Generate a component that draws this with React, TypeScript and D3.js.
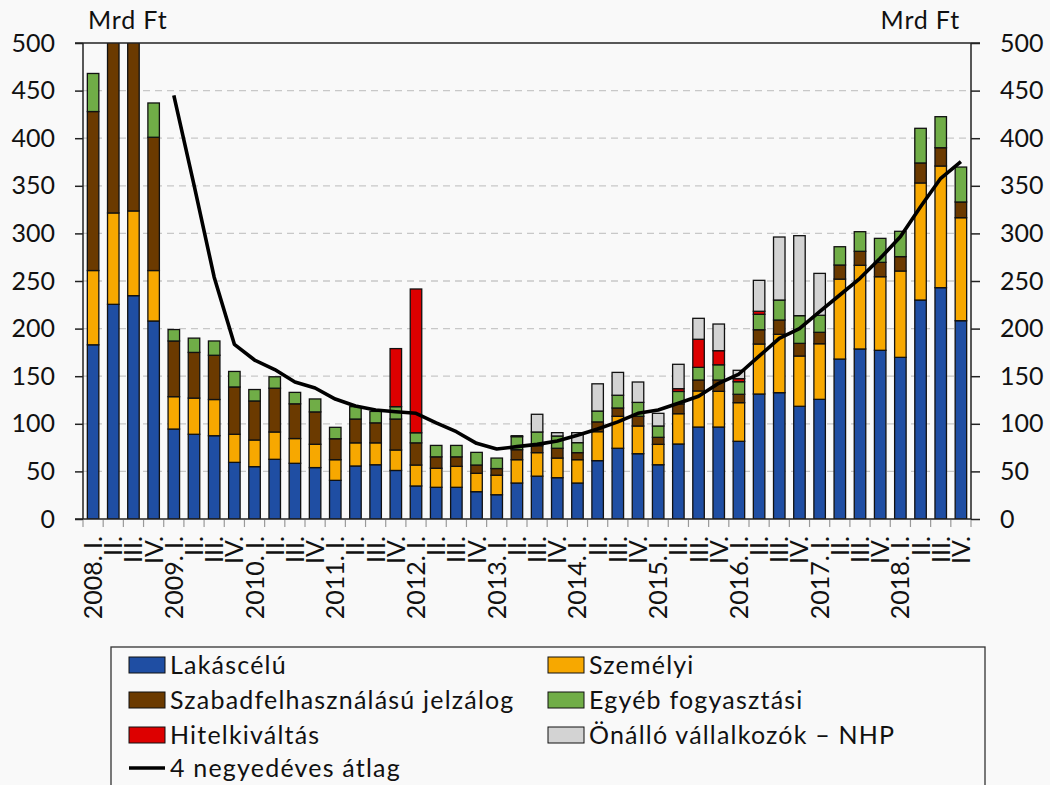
import React, { useRef, useEffect } from "react";
import * as d3 from "d3";

// tick labels
const years = ["2008", "2009", "2010", "2011", "2012", "2013", "2014", "2015", "2016", "2017", "2018"];
const romans = ["I.", "II.", "III.", "IV."];

// series (Mrd Ft), 2008 I. .. 2018 IV.
const lakascelu = [183, 225.5, 234.6, 208, 94.5, 89, 87.5, 59.5, 55, 62.7, 58.5, 54, 40.6, 55.7, 57, 51, 34.7, 33.3, 33.3, 28.7, 25.5, 37.8, 45, 43.4, 37.8, 61.3, 74.3, 68.6, 57, 78.8, 96.6, 96.6, 81.6, 131.3, 132.7, 118.4, 125.7, 168, 178.6, 177.2, 169.8, 230, 243, 208.3];
const szemelyi = [78, 96, 89, 53, 34, 38, 38, 29.5, 28, 28.7, 26, 24.5, 21.7, 24.3, 23, 21.5, 22, 20, 22, 19.3, 20.5, 24.5, 24.7, 20.6, 24.5, 30.4, 33.6, 29.1, 21.4, 31.8, 37.9, 37.5, 40.6, 52.5, 61.3, 52.8, 58.4, 84, 87.9, 77.3, 90.7, 123, 127.8, 108.2];
const szabad = [167, 209, 211, 140, 58.5, 48, 46.5, 49.7, 41, 46, 36.5, 34, 22, 25, 21, 32.5, 23.3, 12, 10, 8.7, 7, 10.5, 7.3, 10.3, 7.4, 10.3, 8.7, 10.2, 7.4, 10.2, 11.5, 11.9, 8.8, 15, 15, 13.3, 12, 14.8, 14.7, 15.1, 15.1, 21, 19.2, 16.5];
const egyeb = [40, 40, 40, 36, 12, 15, 15, 16.3, 12, 12, 12, 13.6, 12, 13, 12, 13, 10.6, 12, 12, 13.3, 11, 13.7, 14.4, 12.9, 10.5, 11.4, 13.4, 14.6, 11.9, 13.2, 13.3, 16, 13.2, 16.2, 21, 29.1, 17.9, 19.2, 20.6, 25.2, 26.6, 36.4, 32.6, 36.7];
const hitel = [0, 0, 0, 0, 0, 0, 0, 0, 0, 0, 0, 0, 0, 0, 0, 61, 151, 0, 0, 0, 0, 0, 0, 0, 0, 0, 0, 0, 0, 2.9, 29.5, 14.8, 3.2, 3.2, 0, 0, 0, 0, 0, 0, 0, 0, 0, 0];
const onallo = [0, 0, 0, 0, 0, 0, 0, 0, 0, 0, 0, 0, 0, 0, 0, 0, 0, 0, 0, 0, 0, 1, 18.6, 3.5, 10.5, 28.6, 24, 21.4, 13.3, 25.6, 22, 28, 8.8, 32.5, 66.2, 84, 44, 0, 0, 0, 0, 0, 0, 0];
const atlag = [null, null, null, null, 445, 351, 254, 183.5, 167, 157, 144, 137.6, 126, 118.7, 114.5, 112.7, 111, 101, 91.7, 79.5, 73.5, 76, 78.4, 82, 88, 94.5, 102, 111, 114.5, 121.5, 129, 142.5, 152.3, 171, 189.8, 200, 217.8, 235.3, 252.8, 273.8, 296.5, 328, 357.9, 375.3];

const seriesNames = ["Lakáscélú", "Személyi", "Szabadfelhasználású jelzálog", "Egyéb fogyasztási", "Hitelkiváltás", "Önálló vállalkozók – NHP"];
const seriesColors = ["#1f4ea3", "#f7a800", "#6b3a00", "#70ad47", "#dd0000", "#d3d3d3"];
const seriesData = [lakascelu, szemelyi, szabad, egyeb, hitel, onallo];

const FONT = "Lato, 'Open Sans', sans-serif";

function App() {
  const svgRef = useRef<SVGSVGElement>(null);

  useEffect(() => {
    document.body.style.margin = "0";
    document.body.style.background = "#f9f9f9";

    const svg = d3.select(svgRef.current);
    svg.selectAll("*").remove();

    const width = 1050;
    const height = 785;
    const margin = { top: 43, right: 79, bottom: 266, left: 83 };
    const innerWidth = width - margin.left - margin.right;
    const innerHeight = height - margin.top - margin.bottom;

    svg.append("rect").attr("width", width).attr("height", height).attr("fill", "#f9f9f9");

    const labels: string[] = [];
    years.forEach((y) => romans.forEach((r, i) => labels.push(i === 0 ? `${y}. ${r}` : r)));

    const x = d3.scaleBand<number>().domain(d3.range(labels.length)).range([0, innerWidth]).paddingInner(0.43).paddingOuter(0.215);
    const xb = d3.scaleBand<number>().domain(d3.range(labels.length)).range([0, innerWidth]);
    const y = d3.scaleLinear().domain([0, 500]).range([innerHeight, 0]);

    const g = svg.append("g").attr("transform", `translate(${margin.left}, ${margin.top})`);

    g.append("clipPath").attr("id", "plot-clip").append("rect").attr("width", innerWidth).attr("height", innerHeight);

    // gridlines
    g.selectAll(".grid")
      .data(d3.range(50, 500, 50))
      .enter()
      .append("line")
      .attr("x1", 0)
      .attr("x2", innerWidth)
      .attr("y1", (d) => y(d))
      .attr("y2", (d) => y(d))
      .attr("stroke", "#c8c8c8")
      .attr("stroke-width", 1.3)
      .attr("stroke-dasharray", "7,5");

    // stacked bars
    const rows = labels.map((_, i) => {
      const o: any = { i };
      seriesData.forEach((s, k) => (o[k] = s[i]));
      return o;
    });
    const stack = d3.stack<any>().keys(seriesData.map((_, k) => String(k)))(rows);

    const bars = g.append("g").attr("clip-path", "url(#plot-clip)");
    stack.forEach((layer, k) => {
      bars
        .selectAll(`.bar-${k}`)
        .data(layer.filter((d) => d[1] - d[0] > 0))
        .enter()
        .append("rect")
        .attr("x", (d) => x(d.data.i)!)
        .attr("width", x.bandwidth())
        .attr("y", (d) => y(d[1]))
        .attr("height", (d) => y(d[0]) - y(d[1]))
        .attr("fill", seriesColors[k])
        .attr("stroke", "#111")
        .attr("stroke-width", 1.3);
    });

    // 4 quarter average
    const line = d3
      .line<number | null>()
      .defined((d) => d !== null)
      .x((_, i) => x(i)! + x.bandwidth() / 2)
      .y((d) => y(d as number));
    g.append("path").datum(atlag).attr("d", line).attr("fill", "none").attr("stroke", "#000").attr("stroke-width", 3.6).attr("stroke-linejoin", "round");

    // frame
    g.append("line").attr("x1", -8).attr("x2", innerWidth + 9).attr("y1", 0).attr("y2", 0).attr("stroke", "#222").attr("stroke-width", 1.5);
    g.append("line").attr("x1", 0).attr("x2", 0).attr("y1", 0).attr("y2", innerHeight).attr("stroke", "#222").attr("stroke-width", 1.5);
    g.append("line").attr("x1", innerWidth).attr("x2", innerWidth).attr("y1", 0).attr("y2", innerHeight).attr("stroke", "#222").attr("stroke-width", 1.5);

    // y axes
    const left = g.append("g").call(d3.axisLeft(y).tickValues(d3.range(0, 501, 50)).tickSize(8).tickPadding(20));
    const right = g.append("g").attr("transform", `translate(${innerWidth}, 0)`).call(d3.axisRight(y).tickValues(d3.range(0, 501, 50)).tickSize(9).tickPadding(20));
    [left, right].forEach((a) => {
      a.select(".domain").remove();
      a.selectAll(".tick line").attr("stroke", "#222").attr("stroke-width", 1.5);
      a.selectAll(".tick text").style("font-family", FONT).style("font-size", "25px").attr("fill", "#111");
    });

    // x axis
    g.append("line").attr("x1", -8).attr("x2", innerWidth).attr("y1", innerHeight).attr("y2", innerHeight).attr("stroke", "#222").attr("stroke-width", 1.5);
    g.selectAll(".xtick")
      .data(d3.range(labels.length + 1))
      .enter()
      .append("line")
      .attr("x1", (d) => (d < labels.length ? xb(d)! : innerWidth))
      .attr("x2", (d) => (d < labels.length ? xb(d)! : innerWidth))
      .attr("y1", innerHeight + 1)
      .attr("y2", innerHeight + 8)
      .attr("stroke", "#999")
      .attr("stroke-width", 1.2);
    g.selectAll(".xlabel")
      .data(labels)
      .enter()
      .append("text")
      .attr("transform", (_, i) => `translate(${xb(i)! + xb.bandwidth() / 2 + 9}, ${innerHeight + 17}) rotate(-90)`)
      .attr("text-anchor", "end")
      .style("font-family", FONT)
      .style("font-size", "25px")
      .attr("fill", "#111")
      .text((d) => d);

    // units
    svg.append("text").attr("x", 88).attr("y", 29).style("font-family", FONT).style("font-size", "25px").style("letter-spacing", "0.8px").attr("fill", "#111").text("Mrd Ft");
    svg.append("text").attr("x", 960).attr("y", 29).attr("text-anchor", "end").style("font-family", FONT).style("font-size", "25px").style("letter-spacing", "0.8px").attr("fill", "#111").text("Mrd Ft");

    // legend
    const legend = svg.append("g");
    legend.append("rect").attr("x", 111).attr("y", 647).attr("width", 874).attr("height", 160).attr("fill", "#f9f9f9").attr("stroke", "#333").attr("stroke-width", 1.3);
    const cols = [129, 548];
    const rowsY = [665, 700, 735];
    seriesNames.forEach((name, k) => {
      const cx = cols[k % 2];
      const cy = rowsY[Math.floor(k / 2)];
      legend.append("rect").attr("x", cx).attr("y", cy - 8).attr("width", 36).attr("height", 16).attr("fill", seriesColors[k]).attr("stroke", "#111").attr("stroke-width", 1);
      legend.append("text").attr("x", cx + 41).attr("y", cy + 9).style("font-family", FONT).style("font-size", "25px").style("letter-spacing", "1.2px").attr("fill", "#111").text(name);
    });
    legend.append("line").attr("x1", 129).attr("x2", 165).attr("y1", 768).attr("y2", 768).attr("stroke", "#000").attr("stroke-width", 3.6);
    legend.append("text").attr("x", 170).attr("y", 777).style("font-family", FONT).style("font-size", "25px").style("letter-spacing", "1.2px").attr("fill", "#111").text("4 negyedéves átlag");
  }, []);

  return <svg ref={svgRef} width={1050} height={785} style={{ display: "block" }}></svg>;
}

export default App;
